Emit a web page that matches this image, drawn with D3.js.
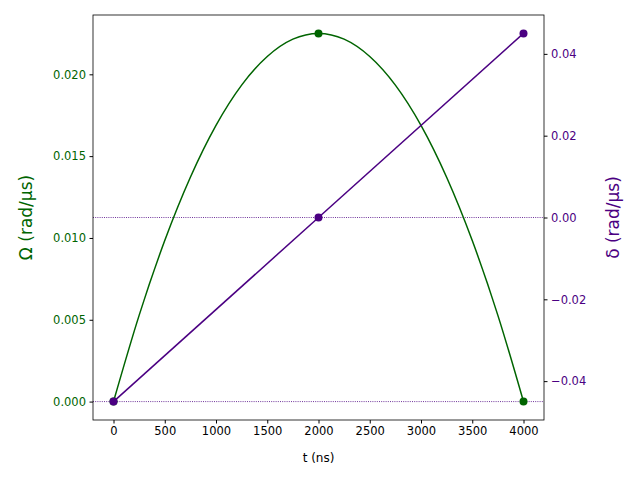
<!DOCTYPE html>
<html><head><meta charset="utf-8">
<script src="https://cdn.jsdelivr.net/npm/d3@7"></script>
<style>body{margin:0;background:#fff}text{font-family:"DejaVu Sans",sans-serif}</style>
</head><body><svg id="c" width="640" height="480"></svg>
<script>
const omegaT = [0,250,500,750,1000,1250,1500,1750,2000,2250,2500,2750,3000,3250,3500,3750,4000];
const omegaV = [0,0.00527,0.00984,0.01371,0.01688,0.01934,0.02109,0.02215,0.0225,0.02215,0.02109,0.01934,0.01688,0.01371,0.00984,0.00527,0];
const markT = [0,2000,4000];
const markOmega = [0,0.0225,0];
const deltaT = [0,2000,4000];
const deltaV = [-0.045,0,0.045];
const xTicks = [0,500,1000,1500,2000,2500,3000,3500,4000];
const yLTicks = [0,0.005,0.01,0.015,0.02];
const yRTicks = [-0.04,-0.02,0,0.02,0.04];
const G="#006400", P="#4b0082";
const L=93,R=544,T=15,B=420;
const svg=d3.select("#c");
const x=d3.scaleLinear().domain([-200,4200]).range([L,R]);
const yl=d3.scaleLinear().domain([-0.001125,0.023625]).range([B,T]);
const yr=d3.scaleLinear().domain([-0.0495,0.0495]).range([B,T]);
const fmt=v=>d3.format(".2f")(v).replace("-","\u2212");
[yr(0),yl(0)].forEach(yy=>svg.append("line").attr("x1",L).attr("x2",R).attr("y1",yy).attr("y2",yy)
 .attr("stroke",P).attr("stroke-width",0.8).attr("stroke-dasharray","1,1.2"));
svg.append("path").datum(omegaT.map((t,i)=>[t,omegaV[i]])).attr("fill","none").attr("stroke",G).attr("stroke-width",1.5)
 .attr("d",d3.line().x(d=>x(d[0])).y(d=>yl(d[1])).curve(d3.curveMonotoneX));
svg.selectAll(".mg").data(markT).enter().append("circle").attr("cx",d=>x(d)).attr("cy",(d,i)=>yl(markOmega[i])).attr("r",4).attr("fill",G);
svg.append("path").datum(deltaT.map((t,i)=>[t,deltaV[i]])).attr("fill","none").attr("stroke",P).attr("stroke-width",1.5)
 .attr("d",d3.line().x(d=>x(d[0])).y(d=>yr(d[1])));
svg.selectAll(".mp").data(deltaT).enter().append("circle").attr("cx",d=>x(d)).attr("cy",(d,i)=>yr(deltaV[i])).attr("r",4).attr("fill",P);
svg.append("rect").attr("x",L).attr("y",T).attr("width",R-L).attr("height",B-T).attr("fill","none").attr("stroke","#000").attr("stroke-width",0.8);
const ax=svg.append("g").attr("transform",`translate(0,${B})`).call(d3.axisBottom(x).tickValues(xTicks).tickSize(3.5).tickPadding(3.5).tickFormat(d3.format("d")));
const al=svg.append("g").attr("transform",`translate(${L},0)`).call(d3.axisLeft(yl).tickValues(yLTicks).tickSize(3.5).tickPadding(3.5).tickFormat(d3.format(".3f")));
const ar=svg.append("g").attr("transform",`translate(${R},0)`).call(d3.axisRight(yr).tickValues(yRTicks).tickSize(3.5).tickPadding(3.5).tickFormat(fmt));
[ax,al,ar].forEach(a=>{a.select(".domain").remove();a.selectAll("text").attr("font-size",11.5).attr("font-family","DejaVu Sans");});
al.selectAll("text").attr("fill",G);
ar.selectAll("text").attr("fill",P);
svg.append("text").attr("x",(L+R)/2).attr("y",462).attr("text-anchor","middle").attr("font-size",12).text("t (ns)");
svg.append("text").attr("transform",`translate(32,${(T+B)/2}) rotate(-90)`).attr("text-anchor","middle").attr("font-size",17).attr("fill",G).text("Ω (rad/μs)");
svg.append("text").attr("transform",`translate(619,${(T+B)/2}) rotate(-90)`).attr("text-anchor","middle").attr("font-size",17).attr("fill",P).text("δ (rad/μs)");
</script></body></html>
